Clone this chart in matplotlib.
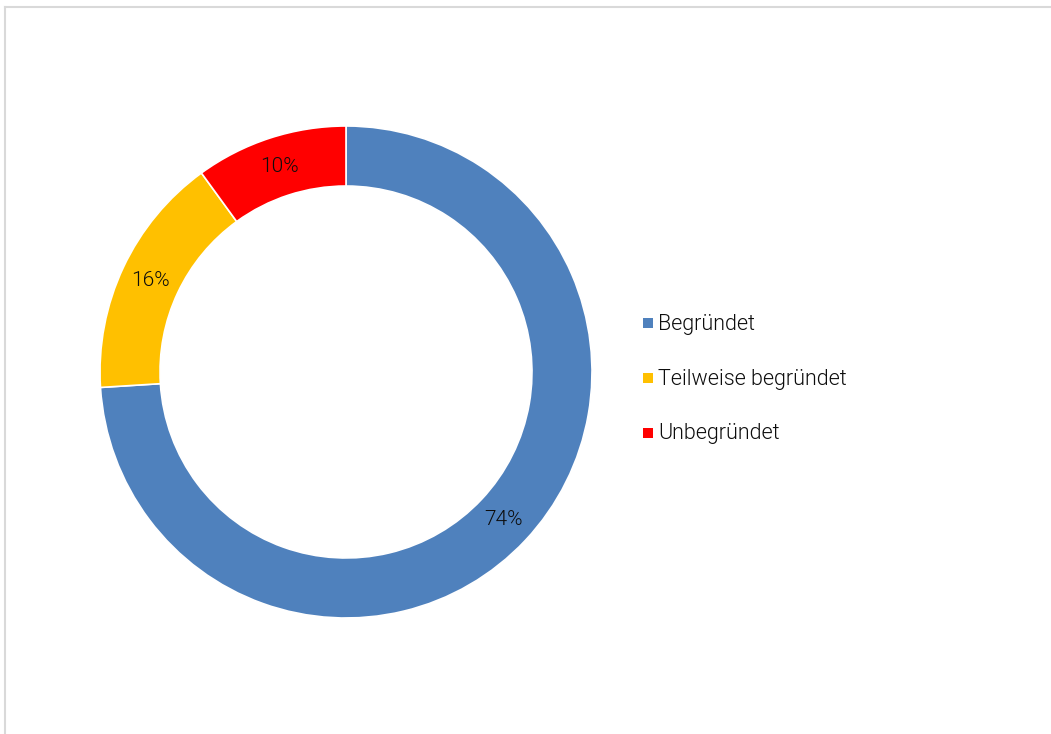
import matplotlib
matplotlib.use("Agg")
import matplotlib.pyplot as plt
from matplotlib import font_manager as fm
from matplotlib.lines import Line2D
from matplotlib.patches import Rectangle

plt.rcParams['font.family'] = ['Roboto', 'DejaVu Sans']

# Roboto Light for all chart text
light = [f.fname for f in fm.fontManager.ttflist if f.fname.endswith("Roboto-Light.ttf")]
fp_leg = fm.FontProperties(fname=light[0], size=15.5) if light else fm.FontProperties(family="Roboto", weight=300, size=15.5)
fp_pct = fp_leg.copy()
fp_pct.set_size(15)

# share of decisions
labels = ["Begründet", "Teilweise begründet", "Unbegründet"]
shares = [74, 16, 10]
colors = ["#4F81BD", "#FFC000", "#FF0000"]

W, H = 1051, 734
fig = plt.figure(figsize=(W / 100, H / 100), dpi=100)

# thin grey frame (top and left edge)
fig.add_artist(Line2D([5 / W, 1], [1 - 7 / H, 1 - 7 / H], color="#d9d9d9", lw=1.5))
fig.add_artist(Line2D([5 / W, 5 / W], [0, 1 - 7 / H], color="#d9d9d9", lw=1.5))

# donut
cx, cy, r = 346, 372, 246
ax = fig.add_axes([(cx - r) / W, (H - cy - r) / H, 2 * r / W, 2 * r / H])
wedges, texts = ax.pie(shares, colors=colors, startangle=90, counterclock=False,
                       radius=1, labels=[f"{v}%" for v in shares], labeldistance=0.878,
                       wedgeprops=dict(width=0.244, edgecolor="white", linewidth=1.2))
for t in texts:
    t.set_fontproperties(fp_pct)
    t.set_color("#0d0d0d")
    t.set_ha("center")
    t.set_va("center")
ax.set_xlim(-1, 1)
ax.set_ylim(-1, 1)
ax.set_aspect("equal")
ax.axis("off")

# legend
for i, (name, col) in enumerate(zip(labels, colors)):
    y = 323 + 55 * i
    fig.add_artist(Rectangle((643 / W, 1 - (y + 5) / H), 10 / W, 10 / H,
                             facecolor=col, edgecolor="none"))
    fig.text(658 / W, 1 - (y + 1) / H, name, fontproperties=fp_leg, color="#0d0d0d",
             ha="left", va="center")

fig.savefig("out.png", dpi=100, facecolor="white")
